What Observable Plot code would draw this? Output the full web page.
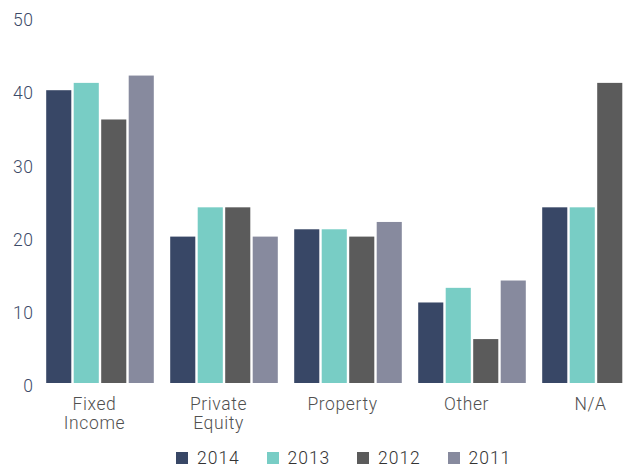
<!DOCTYPE html>
<html>
<head>
<meta charset="utf-8">
<script src="https://cdn.jsdelivr.net/npm/d3@7"></script>
<script src="https://cdn.jsdelivr.net/npm/@observablehq/plot@0.6"></script>
<style>
  html, body { margin: 0; padding: 0; background: #fff; overflow: hidden; }
  #chart { width: 625px; height: 470px; position: relative; overflow: hidden; }
  #chart svg text { letter-spacing: 0.6px; font-weight: 300; }
  .legend { display: flex; height: 30px; padding-left: 176px; padding-top: 3px; align-items: center; font-family: Roboto, "DejaVu Sans Condensed", sans-serif; font-weight: 300; font-size: 17.5px; letter-spacing: 1px; color: #333; }
  .legend .item { display: flex; align-items: center; width: 90.5px; }
  .legend .sw { width: 12px; height: 12px; margin-right: 9px; }
</style>
</head>
<body>
<div id="chart"></div>
<script>
const categories = ["Fixed Income", "Private Equity", "Property", "Other", "N/A"];
const categoryLabels = ["Fixed\nIncome", "Private\nEquity", "Property", "Other", "N/A"];
const years = ["2014", "2013", "2012", "2011"];
const v2014 = [40, 20, 21, 11, 24];
const v2013 = [41, 24, 21, 13, 24];
const v2012 = [36, 24, 20, 6, 41];
const v2011 = [42, 20, 22, 14, null];
const colors = ["#384766", "#78cdc5", "#5b5b5b", "#878a9e"];
const yTicks = [0, 10, 20, 30, 40, 50];

const seriesValues = [v2014, v2013, v2012, v2011];
const data = [];
categories.forEach((c, i) => {
  years.forEach((y, j) => {
    const v = seriesValues[j][i];
    if (v != null) data.push({category: c, year: y, value: v});
  });
});

const labelOf = new Map(categories.map((c, i) => [c, categoryLabels[i]]));

const plot = Plot.plot({
  width: 625,
  height: 440,
  marginTop: 17,
  marginBottom: 57,
  marginLeft: 45,
  marginRight: 0,
  style: {fontFamily: "Roboto, DejaVu Sans Condensed, sans-serif", background: "white"},
  fx: {domain: categories, range: [45, 651], paddingInner: 14 / 124, paddingOuter: 0, round: false, label: null},
  x: {domain: years, padding: 0, round: false, axis: null},
  y: {domain: [0, 50], axis: null},
  color: {domain: years, range: colors},
  marks: [
    Plot.barY(data, {fx: "category", x: "year", y: "value", fill: "year", insetLeft: 1.2, insetRight: 1.2}),
    Plot.axisY({ticks: yTicks, tickSize: 0, tickPadding: 12, fontSize: 17.5, fill: "#3c4a68", dy: 3, label: null}),
    Plot.axisFx({anchor: "bottom", tickSize: 0, tickPadding: 13, fontSize: 17.5, fill: "#505050", dx: -6, lineHeight: 1.07, tickFormat: d => labelOf.get(d), label: null})
  ]
});

const chart = document.getElementById("chart");
chart.appendChild(plot);

const legend = document.createElement("div");
legend.className = "legend";
years.forEach((y, i) => {
  const item = document.createElement("div");
  item.className = "item";
  const sw = document.createElement("div");
  sw.className = "sw";
  sw.style.background = colors[i];
  const t = document.createElement("span");
  t.textContent = y;
  item.appendChild(sw);
  item.appendChild(t);
  legend.appendChild(item);
});
chart.appendChild(legend);
</script>
</body>
</html>
